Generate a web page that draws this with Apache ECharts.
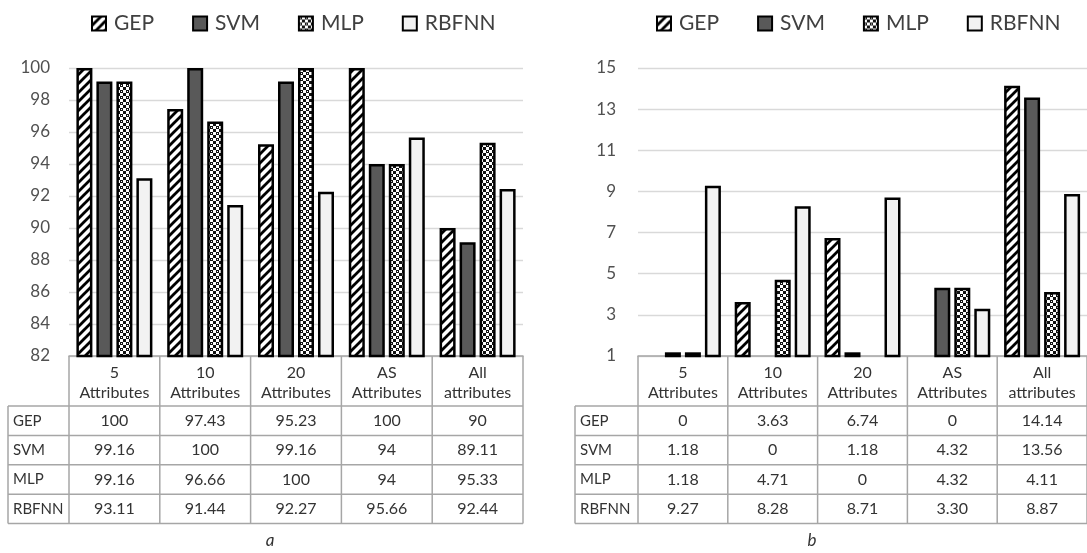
<!DOCTYPE html>
<html><head><meta charset="utf-8">
<script src="https://cdn.jsdelivr.net/npm/echarts@6/dist/echarts.min.js"></script>
<style>html,body{margin:0;padding:0;background:#fff;}#c{width:1087px;height:553px;}</style>
</head><body><div id="c"></div>
<script>
// ---- data ----
const categories = ['5\nAttributes', '10\nAttributes', '20\nAttributes', 'AS\nAttributes', 'All\nattributes'];
const seriesNames = ['GEP', 'SVM', 'MLP', 'RBFNN'];
// panel a (accuracy)
const accGEP = [100, 97.43, 95.23, 100, 90];
const accSVM = [99.16, 100, 99.16, 94, 89.11];
const accMLP = [99.16, 96.66, 100, 94, 95.33];
const accRBFNN = [93.11, 91.44, 92.27, 95.66, 92.44];
// panel b (error)
const errGEP = [0, 3.63, 6.74, 0, 14.14];
const errSVM = [1.18, 0, 1.18, 4.32, 13.56];
const errMLP = [1.18, 4.71, 0, 4.32, 4.11];
const errRBFNN = [9.27, 8.28, 8.71, 3.30, 8.87];
// tick labels
const accTicks = [82, 84, 86, 88, 90, 92, 94, 96, 98, 100];
const errTicks = [1, 3, 5, 7, 9, 11, 13, 15];
const captions = ['a', 'b'];

const accData = [accGEP, accSVM, accMLP, accRBFNN];
const errData = [errGEP, errSVM, errMLP, errRBFNN];

// ---- patterns ----
function hatch() {
  const s = 9, c = document.createElement('canvas');
  c.width = s; c.height = s;
  const g = c.getContext('2d');
  g.fillStyle = '#fff'; g.fillRect(0, 0, s, s);
  g.strokeStyle = '#000'; g.lineWidth = 2.8;
  g.beginPath();
  g.moveTo(-1, s + 1); g.lineTo(s + 1, -1);
  g.moveTo(-s / 2 - 1, s / 2 + 1); g.lineTo(s / 2 + 1, -s / 2 - 1);
  g.moveTo(s / 2 - 1, s * 1.5 + 1); g.lineTo(s * 1.5 + 1, s / 2 - 1);
  g.stroke();
  return c;
}
function dots() {
  const s = 6, c = document.createElement('canvas');
  c.width = s; c.height = s;
  const g = c.getContext('2d');
  g.fillStyle = '#fff'; g.fillRect(0, 0, s, s);
  g.fillStyle = '#111';
  g.fillRect(0, 0, 3, 3); g.fillRect(3, 3, 3, 3);
  g.fillStyle = '#fff';
  g.fillRect(1, 1, 1, 1);
  return c;
}
const fills = [
  { image: hatch(), repeat: 'repeat' },
  '#595959',
  { image: dots(), repeat: 'repeat' },
  '#f2f2f2'
];

const FONT = 'Lato';
const TXT = '#333333';
const fmt = v => Number.isInteger(v) ? String(v) : v.toFixed(2);

const grids = [
  { left: 69, top: 68, width: 454, height: 288 },
  { left: 638, top: 68, width: 450, height: 288 }
];

function makeSeries(dataSets, gi) {
  return seriesNames.map((n, i) => ({
    name: n, type: 'bar', xAxisIndex: gi, yAxisIndex: gi,
    data: dataSets[i], barWidth: 16, barGap: '25%',
    itemStyle: { color: fills[i], borderColor: '#000', borderWidth: 2.5 },
    emphasis: { disabled: true }, animation: false
  }));
}

const xAxisBase = gi => ({
  type: 'category', gridIndex: gi, data: categories,
  axisLine: { show: true, lineStyle: { color: '#a6a6a6', width: 1.5 } },
  axisTick: { show: false },
  axisLabel: { interval: 0, color: TXT, fontFamily: FONT, fontSize: 16, lineHeight: 20, margin: 7 }
});

const legendBase = left => ({
  left: left, top: 8, itemGap: 38, itemWidth: 14, itemHeight: 14, icon: 'rect',
  data: seriesNames,
  textStyle: { fontSize: 21, color: '#404040', fontFamily: FONT, padding: [0, 0, 0, 3] }
});

const option = {
  animation: false,
  textStyle: { fontFamily: FONT },
  grid: grids,
  legend: [legendBase(86), legendBase(651)],
  xAxis: [xAxisBase(0), xAxisBase(1)],
  yAxis: [
    { type: 'value', gridIndex: 0, min: accTicks[0], max: accTicks[accTicks.length - 1], interval: 2,
      axisLine: { show: false }, axisTick: { show: false },
      axisLabel: { color: '#505050', fontFamily: FONT, fontSize: 17, margin: 19 },
      splitLine: { lineStyle: { color: '#d9d9d9', width: 1.3 } } },
    { type: 'value', gridIndex: 1, min: errTicks[0], max: errTicks[errTicks.length - 1],
      axisLine: { show: false },
      axisTick: { show: false, customValues: errTicks },
      axisLabel: { color: '#505050', fontFamily: FONT, fontSize: 17, margin: 22, customValues: errTicks },
      splitLine: { lineStyle: { color: '#d9d9d9', width: 1.3 } } }
  ],
  series: [...makeSeries(accData, 0), ...makeSeries(errData, 1)]
};

const chart = echarts.init(document.getElementById('c'), null, { renderer: 'canvas' });
chart.setOption(option);

// ---- data tables under each chart ----
function buildTable(gi, dataSets, labelLeft, caption) {
  const els = [];
  const centers = categories.map((c, i) => chart.convertToPixel({ xAxisIndex: gi }, i));
  const bw = centers[1] - centers[0];
  const bounds = centers.map(c => c - bw / 2).concat([centers[centers.length - 1] + bw / 2]);
  const baseY = chart.convertToPixel({ yAxisIndex: gi }, gi === 0 ? accTicks[0] : errTicks[0]);
  const headBottom = baseY + 50;
  const rowH = 29.4;
  const bottom = headBottom + rowH * seriesNames.length;
  const line = { stroke: '#a6a6a6', lineWidth: 1.5 };
  bounds.forEach(x => els.push({ type: 'line', shape: { x1: x, y1: baseY, x2: x, y2: bottom }, style: line, silent: true }));
  els.push({ type: 'line', shape: { x1: labelLeft, y1: headBottom, x2: labelLeft, y2: bottom }, style: line, silent: true });
  for (let r = 0; r <= seriesNames.length; r++) {
    const y = headBottom + r * rowH;
    els.push({ type: 'line', shape: { x1: labelLeft, y1: y, x2: bounds[bounds.length - 1], y2: y }, style: line, silent: true });
  }
  seriesNames.forEach((n, r) => {
    const cy = headBottom + r * rowH + rowH / 2;
    els.push({ type: 'text', x: labelLeft + 5, y: cy, silent: true,
      style: { text: n, fill: TXT, font: '15px ' + FONT, textAlign: 'left', textVerticalAlign: 'middle' } });
    dataSets[r].forEach((v, c) => {
      els.push({ type: 'text', x: centers[c], y: cy, silent: true,
        style: { text: fmt(v), fill: TXT, font: '16px ' + FONT, textAlign: 'center', textVerticalAlign: 'middle' } });
    });
  });
  els.push({ type: 'text', x: gi === 0 ? 270 : 812, y: 541, silent: true,
    style: { text: caption, fill: TXT, font: 'italic 17px ' + FONT, textAlign: 'center', textVerticalAlign: 'middle' } });
  return els;
}

chart.setOption({ graphic: [...buildTable(0, accData, 8, captions[0]), ...buildTable(1, errData, 575, captions[1])] });
</script>
</body></html>
